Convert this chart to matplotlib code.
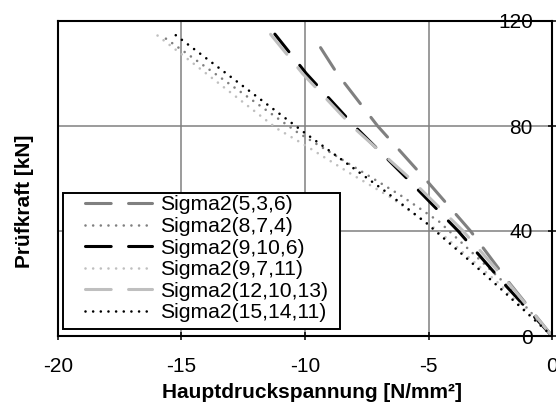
import matplotlib
matplotlib.use("Agg")
import matplotlib.pyplot as plt
from matplotlib.patches import Rectangle

plt.rcParams['font.family'] = ['Liberation Sans', 'DejaVu Sans']
plt.rcParams['lines.scale_dashes'] = False
plt.rcParams['axes.unicode_minus'] = False

# Hauptdruckspannung [N/mm²] over Prüfkraft [kN] for each measuring point
labels = ["Sigma2(5,3,6)", "Sigma2(8,7,4)", "Sigma2(9,10,6)",
          "Sigma2(9,7,11)", "Sigma2(12,10,13)", "Sigma2(15,14,11)"]

kraft_5_3_6 = [0, 20, 40, 60, 80, 100, 115]
sigma_5_3_6 = [0, -1.71, -3.30, -5.15, -7.06, -8.70, -9.72]

kraft_8_7_4 = [0, 20, 43.5, 53.7, 77.8, 113.8]
sigma_8_7_4 = [0, -1.9, -4.56, -6.15, -10.34, -15.71]

kraft_9_10_6 = [0, 20, 40, 60, 80, 100, 115]
sigma_9_10_6 = [0, -1.95, -3.8, -5.87, -8.0, -9.95, -11.22]

kraft_9_7_11 = [0, 20, 40, 53, 62, 73.1, 79.1, 114.9]
sigma_9_7_11 = [0, -2.15, -4.6, -6.56, -8.18, -10.07, -11.15, -16.03]

kraft_12_10_13 = [0, 20, 40, 60, 80, 100, 115]
sigma_12_10_13 = [0, -1.75, -3.6, -5.75, -8.1, -10.1, -11.4]

kraft_15_14_11 = [0, 18.2, 29.6, 42.9, 55.4, 77.8, 115]
sigma_15_14_11 = [0, -2.1, -3.45, -5.07, -6.79, -10.07, -15.29]

x_ticks = [-20, -15, -10, -5, 0]
x_ticklabels = ["-20", "-15", "-10", "-5", "0"]
y_ticks = [0, 40, 80, 120]
y_ticklabels = ["0", "40", "80", "120"]

GRAY = "#808080"
LIGHT = "#bfbfbf"
dashed = dict(dashes=(18.5, 12.5), dash_capstyle="round", lw=2.2)
dotted = dict(dashes=(0.01, 5.5), dash_capstyle="round", lw=1.9)

fig = plt.figure(figsize=(5.56, 4.05), dpi=100)
ax = fig.add_axes([58 / 556, 69 / 405, 494 / 556, 315 / 405])

series = [
    (sigma_5_3_6, kraft_5_3_6, GRAY, dashed),
    (sigma_8_7_4, kraft_8_7_4, GRAY, dotted),
    (sigma_9_10_6, kraft_9_10_6, "black", dashed),
    (sigma_9_7_11, kraft_9_7_11, LIGHT, dotted),
    (sigma_12_10_13, kraft_12_10_13, LIGHT, dashed),
    (sigma_15_14_11, kraft_15_14_11, "black", dotted),
]
for (xs, ys, color, style), lab in zip(series, labels):
    ax.plot(xs, ys, color=color, label=lab, **style)

ax.set_xlim(-20, 0)
ax.set_ylim(0, 120)
ax.set_xticks(x_ticks)
ax.set_xticklabels(x_ticklabels)
ax.set_yticks(y_ticks)
ax.set_yticklabels(y_ticklabels)

ax.grid(True, color=GRAY, lw=1.1)
ax.set_axisbelow(True)
for sp in ax.spines.values():
    sp.set_color("black")
    sp.set_linewidth(1.5)

ax.tick_params(axis="x", direction="inout", length=5.8, width=1.1,
               pad=12, labelsize=15, colors="black")
ax.yaxis.tick_right()
ax.tick_params(axis="y", direction="inout", length=5.8, width=1.1,
               pad=-16.6, labelsize=15, colors="black")
plt.setp(ax.get_yticklabels(), ha="right")

# legend box with white background
ax.add_patch(Rectangle((63 / 556, (405 - 329) / 405), 277 / 556, 136 / 405,
                       transform=fig.transFigure, fc="white", ec="black",
                       lw=1.4, zorder=4))
ax.legend(loc="upper left", bbox_to_anchor=(84.5 / 556, 1 - 195.5 / 405),
          bbox_transform=fig.transFigure, frameon=False, borderpad=0,
          borderaxespad=0, handlelength=3.18, handletextpad=0.38,
          labelspacing=0.12, fontsize=15.2)

fig.text(25 / 556, 0.504, "Prüfkraft [kN]", rotation=90, ha="center",
         va="center", fontsize=15, fontweight="bold")
fig.text(312 / 556, 0.0185, "Hauptdruckspannung [N/mm²]", ha="center",
         va="baseline", fontsize=15, fontweight="bold")

fig.savefig("out.png", dpi=100)
